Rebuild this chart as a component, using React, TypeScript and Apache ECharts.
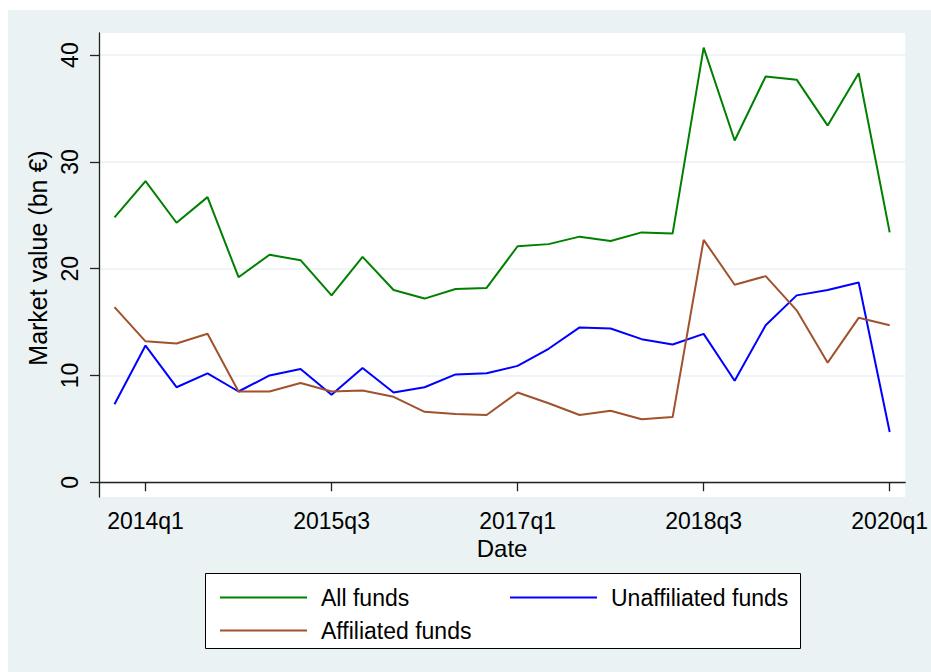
import React, { useEffect, useRef } from "react";
import * as echarts from "echarts";

const quarters = [
  "2013q4", "2014q1", "2014q2", "2014q3", "2014q4",
  "2015q1", "2015q2", "2015q3", "2015q4",
  "2016q1", "2016q2", "2016q3", "2016q4",
  "2017q1", "2017q2", "2017q3", "2017q4",
  "2018q1", "2018q2", "2018q3", "2018q4",
  "2019q1", "2019q2", "2019q3", "2019q4",
  "2020q1",
];
const tickQuarters = ["2014q1", "2015q3", "2017q1", "2018q3", "2020q1"];
const yTicks = [0, 10, 20, 30, 40];

const allFunds = [24.8, 28.2, 24.3, 26.7, 19.2, 21.3, 20.8, 17.5, 21.1, 18.0, 17.2, 18.1, 18.2, 22.1, 22.3, 23.0, 22.6, 23.4, 23.3, 40.7, 32.0, 38.0, 37.7, 33.4, 38.3, 23.4];
const unaffiliatedFunds = [7.3, 12.8, 8.9, 10.2, 8.5, 10.0, 10.6, 8.2, 10.7, 8.4, 8.9, 10.1, 10.2, 10.9, 12.5, 14.5, 14.4, 13.4, 12.9, 13.9, 9.5, 14.7, 17.5, 18.0, 18.7, 4.7];
const affiliatedFunds = [16.4, 13.2, 13.0, 13.9, 8.5, 8.5, 9.3, 8.5, 8.6, 8.0, 6.6, 6.4, 6.3, 8.4, 7.4, 6.3, 6.7, 5.9, 6.1, 22.7, 18.5, 19.3, 16.1, 11.2, 15.4, 14.7];

const BG = "#eaf2f3";
const FONT = "'Liberation Sans', Arial, Helvetica, sans-serif";

export default function App() {
  const ref = useRef<HTMLDivElement>(null);
  useEffect(() => {
    if (!ref.current) return;
    const chart = echarts.init(ref.current, null, { renderer: "svg" });
    const showTick = (index: number) => tickQuarters.includes(quarters[index]);
    const axisColor = "#222";
    const legendBase = {
      itemWidth: 87,
      itemHeight: 2,
      icon: "rect",
      selectedMode: false,
      textStyle: { fontSize: 23, color: "#000", fontFamily: FONT, padding: [0, 0, 0, 9] },
    };
    chart.setOption({
      animation: false,
      backgroundColor: BG,
      textStyle: { fontFamily: FONT },
      grid: { left: 91, right: 22, top: 23, bottom: 175, show: true, backgroundColor: "#fff", borderWidth: 0 },
      xAxis: {
        type: "category",
        data: quarters,
        boundaryGap: true,
        name: "Date",
        nameLocation: "middle",
        nameGap: 37,
        nameTextStyle: { fontSize: 24, color: "#000", fontFamily: FONT },
        axisLine: { show: true, lineStyle: { color: axisColor, width: 1.3 } },
        axisTick: { show: true, alignWithLabel: true, interval: showTick, length: 9, lineStyle: { color: axisColor, width: 1.3 } },
        axisLabel: { interval: showTick, fontSize: 23, color: "#000", margin: 12, fontFamily: FONT },
        splitLine: { show: false },
      },
      yAxis: {
        type: "value",
        min: -1.38,
        max: 42.07,
        name: "Market value (bn €)",
        nameLocation: "middle",
        nameGap: 46,
        nameRotate: 90,
        nameTextStyle: { fontSize: 25, color: "#000", fontFamily: FONT, padding: [0, 0, 0, 14] },
        axisLine: { show: true, lineStyle: { color: axisColor, width: 1.3 } },
        axisTick: { show: true, length: 9, customValues: yTicks, lineStyle: { color: axisColor, width: 1.3 } },
        axisLabel: { rotate: 90, customValues: yTicks, fontSize: 23, color: "#000", margin: 18, fontFamily: FONT },
        splitLine: { show: true, lineStyle: { color: BG, width: 1.5 } },
      },
      legend: [
        { ...legendBase, data: ["All funds"], left: 207, top: 571 },
        { ...legendBase, data: ["Unaffiliated funds"], left: 497, top: 571 },
        { ...legendBase, data: ["Affiliated funds"], left: 207, top: 604 },
      ],
      graphic: [
        {
          type: "rect",
          z: 0,
          shape: { x: 197.5, y: 563.5, width: 595, height: 75 },
          style: { fill: "#fff", stroke: "#000", lineWidth: 1 },
        },
      ],
      series: [
        { name: "All funds", type: "line", data: allFunds, symbol: "none", lineStyle: { color: "#008000", width: 2 }, itemStyle: { color: "#008000" } },
        { name: "Unaffiliated funds", type: "line", data: unaffiliatedFunds, symbol: "none", lineStyle: { color: "#0000ff", width: 2 }, itemStyle: { color: "#0000ff" } },
        { name: "Affiliated funds", type: "line", data: affiliatedFunds, symbol: "none", lineStyle: { color: "#a0522d", width: 2 }, itemStyle: { color: "#a0522d" } },
      ],
    });
    return () => chart.dispose();
  }, []);
  return (
    <div
      ref={ref}
      style={{ position: "absolute", left: 8, top: 10, width: 923, height: 662 }}
    />
  );
}
